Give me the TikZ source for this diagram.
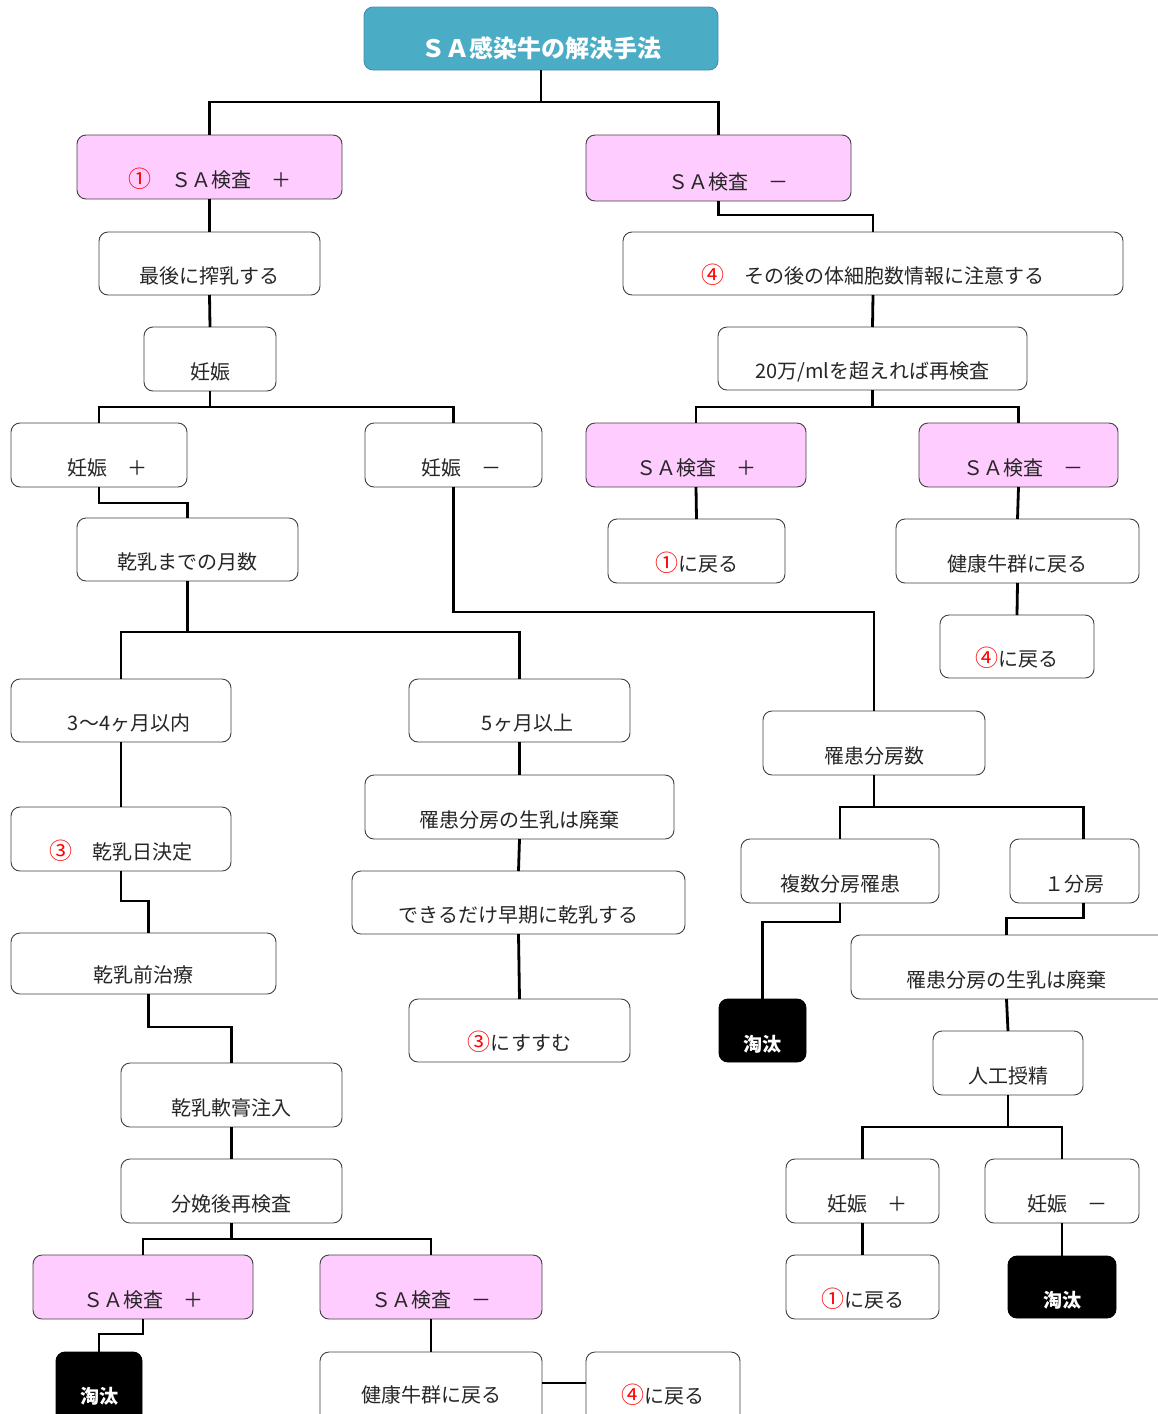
\documentclass[tikz,border=0pt]{standalone}
\usepackage{fontspec}
\setmainfont{Noto Sans CJK JP}
\definecolor{teal1}{RGB}{75,172,198}
\definecolor{tealb}{RGB}{70,140,180}
\definecolor{pink1}{RGB}{255,204,255}
\definecolor{bord}{RGB}{64,64,64}
\newcommand\rd[1]{\textcolor{red}{\scalebox{1.15}{#1}}}
\newcommand\bx[8][12]{%
  \pgfmathsetmacro\bxw{#5-#3}%
  \pgfmathsetmacro\bxh{#6-#4}%
  \pgfmathsetmacro\bxth{#6-#4-#1}%
  \node[#7, minimum width=\bxw pt, minimum height=\bxh pt, text height=\bxth pt, text depth=#1pt] (#2) at ({(#3+#5)/2},{(#4+#6)/2}) {#8};}
\tikzset{
  basebox/.style={rectangle, rounded corners=9pt, inner sep=0pt, outer sep=0pt, align=center, font=\fontsize{20}{22}\selectfont},
  wbox/.style={basebox, draw=bord, line width=0.9pt, fill=white, text=black!85},
  pbox/.style={basebox, draw=bord, line width=0.9pt, fill=pink1, text=black!85},
  tbox/.style={basebox, draw=tealb, line width=0.9pt, fill=teal1, text=white, font=\fontsize{24}{26}\selectfont\bfseries},
  kbox/.style={basebox, draw=black, line width=0.9pt, fill=black, text=white, font=\fontsize{19}{22}\selectfont\bfseries},
  conn/.style={draw=black, line width=2.8pt}
}
\begin{document}
\begin{tikzpicture}[x=1pt,y=-1pt]
\useasboundingbox (0,0) rectangle (1158,1414);
\bx[13]{title}{364}{7}{718}{70}{tbox}{ＳＡ感染牛の解決手法}
\bx{sap1}{77}{135}{342}{199}{pbox}{\rd{①}　ＳＡ検査　＋}
\bx{sam1}{586}{135}{851}{201}{pbox}{\hspace*{20pt}ＳＡ検査　－}
\bx{last}{99}{232}{320}{295}{wbox}{最後に搾乳する}
\bx{note4}{623}{232}{1123}{295}{wbox}{\rd{④}　その後の体細胞数情報に注意する}
\bx{preg}{144}{327}{276}{391}{wbox}{妊娠}
\bx{recheck}{718}{327}{1027}{390}{wbox}{20万/mlを超えれば再検査}
\bx{pregp}{11}{423}{187}{487}{wbox}{\hspace*{16pt}妊娠　＋}
\bx{pregm}{365}{423}{542}{487}{wbox}{\hspace*{16pt}妊娠　－}
\bx{sap2}{586}{423}{806}{487}{pbox}{ＳＡ検査　＋}
\bx{sam2}{919}{423}{1118}{487}{pbox}{\hspace*{10pt}ＳＡ検査　－}
\bx{months}{77}{518}{298}{581}{wbox}{乾乳までの月数}
\bx{back1a}{608}{519}{785}{583}{wbox}{\rd{①}に戻る}
\bx{healthy1}{896}{519}{1139}{583}{wbox}{健康牛群に戻る}
\bx{back4a}{940}{615}{1094}{678}{wbox}{\rd{④}に戻る}
\bx{mthree}{11}{679}{231}{742}{wbox}{\hspace*{16pt}3～4ヶ月以内}
\bx{mfive}{409}{679}{630}{742}{wbox}{\hspace*{16pt}5ヶ月以上}
\bx{quarters}{763}{711}{985}{775}{wbox}{罹患分房数}
\bx{discardA}{365}{775}{674}{839}{wbox}{罹患分房の生乳は廃棄}
\bx{dryday}{11}{807}{231}{871}{wbox}{\rd{③}　乾乳日決定}
\bx{multi}{741}{839}{939}{903}{wbox}{複数分房罹患}
\bx{single}{1010}{839}{1139}{903}{wbox}{１分房}
\bx{early}{352}{871}{685}{934}{wbox}{できるだけ早期に乾乳する}
\bx{predry}{11}{933}{276}{994}{wbox}{乾乳前治療}
\bx{discardB}{851}{935}{1170}{999}{wbox}{罹患分房の生乳は廃棄\hspace*{8pt}}
\bx[11]{cullA}{719}{999}{806}{1062}{kbox}{淘汰}
\bx{gothree}{409}{999}{630}{1062}{wbox}{\rd{③}にすすむ}
\bx{ai}{933}{1031}{1083}{1095}{wbox}{人工授精}
\bx{ointment}{121}{1063}{342}{1127}{wbox}{乾乳軟膏注入}
\bx{postcalv}{121}{1159}{342}{1223}{wbox}{分娩後再検査}
\bx{pregpB}{786}{1159}{939}{1223}{wbox}{\hspace*{10pt}妊娠　＋}
\bx{pregmB}{985}{1159}{1139}{1223}{wbox}{\hspace*{10pt}妊娠　－}
\bx{sapB}{33}{1255}{253}{1319}{pbox}{ＳＡ検査　＋}
\bx{samB}{320}{1255}{542}{1319}{pbox}{ＳＡ検査　－}
\bx{backoneB}{786}{1255}{939}{1319}{wbox}{\rd{①}に戻る}
\bx[11]{cullB}{1008}{1256}{1116}{1318}{kbox}{淘汰}
\bx[25]{cullC}{56}{1352}{142}{1428}{kbox}{淘汰}
\bx[26]{healthyB}{320}{1352}{542}{1428}{wbox}{健康牛群に戻る}
\bx[25]{backfourB}{586}{1352}{740}{1428}{wbox}{\rd{④}に戻る}
% connectors
\draw[conn] (title.south) -- ++(0,32) -| (sap1.north);
\draw[conn] (title.south) -- ++(0,32) -| (sam1.north);
\draw[conn] (sap1.south) -- (last.north);
\draw[conn] (last.south) -- (preg.north);
\draw[conn] (preg.south) -- ++(0,16) -| (pregp.north);
\draw[conn] (preg.south) -- ++(0,16) -| (pregm.north);
\draw[conn] (sam1.south) -- ++(0,14) -| (note4.north);
\draw[conn] (note4.south) -- (recheck.north);
\draw[conn] (recheck.south) -- ++(0,17) -| (sap2.north);
\draw[conn] (recheck.south) -- ++(0,17) -| (sam2.north);
\draw[conn] (sap2.south) -- (back1a.north);
\draw[conn] (sam2.south) -- (healthy1.north);
\draw[conn] (healthy1.south) -- (back4a.north);
\draw[conn] (pregp.south) -- ++(0,16) -| (months.north);
\draw[conn] (months.south) -- ++(0,51) -| (mthree.north);
\draw[conn] (months.south) -- ++(0,51) -| (mfive.north);
\draw[conn] (pregm.south) -- ++(0,125) -| (quarters.north);
\draw[conn] (mthree.south) -- (dryday.north);
\draw[conn] (mfive.south) -- (discardA.north);
\draw[conn] (discardA.south) -- (early.north);
\draw[conn] (early.south) -- (gothree.north);
\draw[conn] (dryday.south) -- ++(0,30) -| ([xshift=5pt]predry.north);
\draw[conn] ([xshift=5pt]predry.south) -- ++(0,33) -| (ointment.north);
\draw[conn] (ointment.south) -- (postcalv.north);
\draw[conn] (postcalv.south) -- ++(0,16) -| (sapB.north);
\draw[conn] (postcalv.south) -- ++(0,16) -| (samB.north);
\draw[conn] (sapB.south) -- ++(0,15) -| (cullC.north);
\draw[conn] (samB.south) -- (healthyB.north);
\draw[conn] ([yshift=-31pt]healthyB.north east) -- ([yshift=-31pt]backfourB.north west);
\draw[conn] (quarters.south) -- ++(0,32) -| (multi.north);
\draw[conn] (quarters.south) -- ++(0,32) -| ([xshift=9pt]single.north);
\draw[conn] (multi.south) -- ++(0,19) -| (cullA.north);
\draw[conn] ([xshift=9pt]single.south) -- ++(0,15) -| ([xshift=-4pt]discardB.north);
\draw[conn] ([xshift=-4pt]discardB.south) -- (ai.north);
\draw[conn] (ai.south) -- ++(0,32) -| (pregpB.north);
\draw[conn] (ai.south) -- ++(0,32) -| (pregmB.north);
\draw[conn] (pregpB.south) -- (backoneB.north);
\draw[conn] (pregmB.south) -- (cullB.north);
\end{tikzpicture}
\end{document}
